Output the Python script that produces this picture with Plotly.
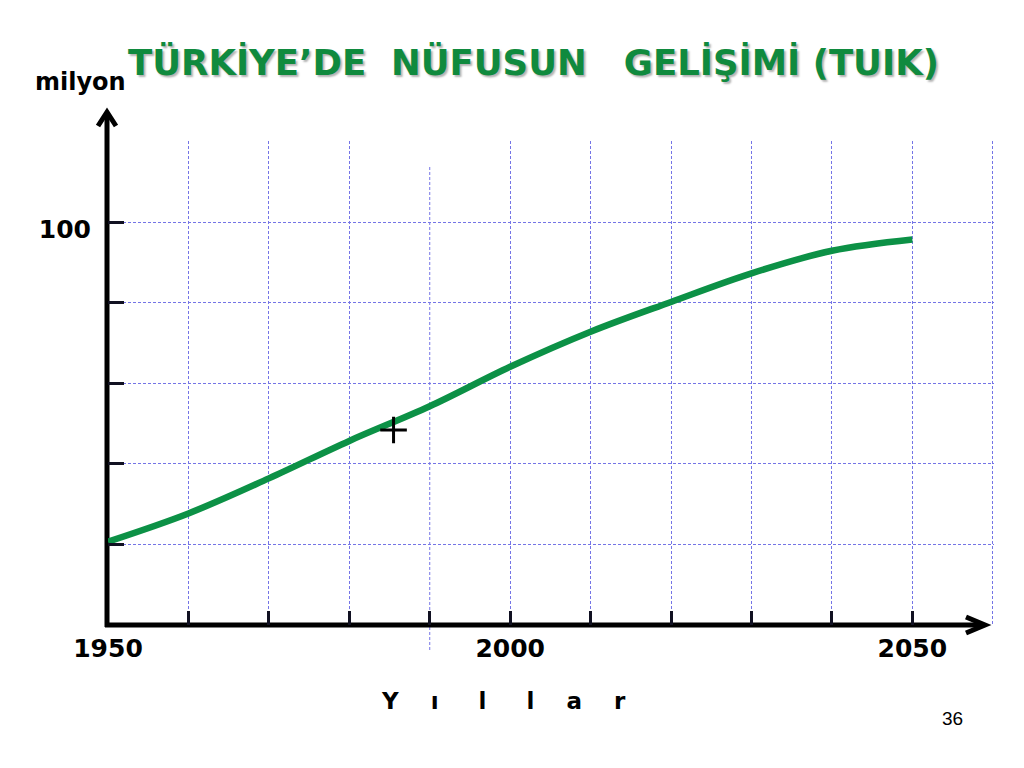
import plotly.graph_objects as go

# ---- data ----
years = [1950, 1960, 1970, 1980, 1990, 2000, 2010, 2020, 2030, 2040, 2050]
population = [20.7, 27.7, 36.4, 45.7, 54.3, 64.1, 72.8, 80.2, 87.3, 92.9, 95.7]
marker_year = [1985.5]
marker_value = [48.4]

x_tick_vals = [1950, 1960, 1970, 1980, 1990, 2000, 2010, 2020, 2030, 2040, 2050]
x_tick_text = ["1950", "", "", "", "", "2000", "", "", "", "", "2050"]
x_grid_vals = [1960, 1970, 1980, 2000, 2010, 2020, 2030, 2040, 2050, 2060]
y_tick_vals = [20, 40, 60, 80, 100]
y_tick_text = ["", "", "", "", "100"]
y_grid_vals = [20, 40, 60, 80, 100, 120]

title_text = "TÜRKİYE’DE\u00a0\u00a0NÜFUSUN\u00a0\u00a0\u00a0GELİŞİMİ (TUIK)"
y_unit = "milyon"
x_title = "Y\u00a0\u00a0\u00a0\u00a0ı\u00a0\u00a0\u00a0\u00a0\u00a0l\u00a0\u00a0\u00a0\u00a0\u00a0l\u00a0\u00a0\u00a0\u00a0a\u00a0\u00a0\u00a0\u00a0r"
page_no = "36"

GREEN = "#0c9146"
TITLE_GREEN = "#108a3e"
GRID = "#7474e6"
FONT = "Verdana, DejaVu Sans, sans-serif"

fig = go.Figure()
fig.add_trace(go.Scatter(
    x=years, y=population, mode="lines",
    line=dict(color=GREEN, width=6.5, shape="spline", smoothing=1.0),
    hoverinfo="skip", showlegend=False,
))
fig.add_trace(go.Scatter(
    x=marker_year, y=marker_value, mode="markers",
    marker=dict(symbol="cross-thin", size=19, line=dict(color="black", width=3)),
    hoverinfo="skip", showlegend=False,
))

# page offset (body margin of the html page)
OX, OY = 8, 8
W, H = 1008, 752
L = 108 - OX
T = 141 - OY
plot_right = 994 - OX
plot_bottom = 625 - OY
R = W - plot_right
B = H - plot_bottom
pw, ph = W - L - R, H - T - B

def px_x(p):
    return (p - OX - L) / pw

def px_y(p):
    return (H - B - (p - OY)) / ph

fig.update_layout(
    width=W, height=H,
    margin=dict(l=L, r=R, t=T, b=B, pad=0),
    paper_bgcolor="white", plot_bgcolor="white",
    showlegend=False,
    xaxis=dict(
        range=[1950, 2060.15], showline=False, zeroline=False,
        tickmode="array", tickvals=x_tick_vals, ticktext=x_tick_text,
        ticks="inside", ticklen=14, tickwidth=3, tickcolor="#111122",
        showgrid=False,
        tickfont=dict(family=FONT, size=25, color="black", weight="bold"),
        ticklabelstandoff=6,
        minor=dict(tickmode="array", tickvals=x_grid_vals, showgrid=True,
                   gridcolor=GRID, gridwidth=1, griddash="3px,2px", ticks=""),
    ),
    yaxis=dict(
        range=[0, 120.15], showline=False, zeroline=False,
        tickmode="array", tickvals=y_tick_vals, ticktext=y_tick_text,
        ticks="inside", ticklen=16, tickwidth=3, tickcolor="#111122",
        showgrid=False,
        tickfont=dict(family=FONT, size=25, color="black", weight="bold"),
        ticklabelstandoff=16, ticklabelshift=7,
        minor=dict(tickmode="array", tickvals=y_grid_vals, showgrid=True,
                   gridcolor=GRID, gridwidth=1, griddash="3px,2px", ticks=""),
    ),
)

shapes = []
# special 1990 grid line (shorter at top, extending below axis)
shapes.append(dict(type="line", xref="x", yref="paper", x0=1990, x1=1990,
                   y0=px_y(650), y1=px_y(165),
                   line=dict(color=GRID, width=1, dash="3px,2px"), layer="below"))
# y axis with arrow
shapes.append(dict(type="line", xref="paper", yref="paper", x0=px_x(107), x1=px_x(107),
                   y0=px_y(627), y1=px_y(113), line=dict(color="black", width=5), layer="between"))
shapes.append(dict(type="path", xref="paper", yref="paper",
                   path=f"M {px_x(98)} {px_y(126)} L {px_x(107)} {px_y(112)} L {px_x(116)} {px_y(126)}",
                   line=dict(color="black", width=5), layer="between"))
# x axis with arrow
shapes.append(dict(type="line", xref="paper", yref="paper", x0=px_x(105), x1=px_x(984),
                   y0=px_y(625), y1=px_y(625), line=dict(color="black", width=5), layer="between"))
shapes.append(dict(type="path", xref="paper", yref="paper",
                   path=f"M {px_x(966)} {px_y(617)} L {px_x(985)} {px_y(625)} L {px_x(966)} {px_y(633)}",
                   line=dict(color="black", width=5), layer="between"))
fig.update_layout(shapes=shapes)

ann = []
ann.append(dict(xref="paper", yref="paper", x=px_x(533), y=px_y(63), text=title_text,
                showarrow=False, xanchor="center", yanchor="middle",
                font=dict(family=FONT, size=35.5, color=TITLE_GREEN, weight="bold",
                          shadow="2px 2px 2px rgba(0,0,0,0.3)")))
ann.append(dict(xref="paper", yref="paper", x=px_x(80), y=px_y(82), text=y_unit,
                showarrow=False, xanchor="center", yanchor="middle",
                font=dict(family=FONT, size=24, color="black", weight="bold")))
ann.append(dict(xref="paper", yref="paper", x=px_x(503), y=px_y(701), text=x_title,
                showarrow=False, xanchor="center", yanchor="middle",
                font=dict(family=FONT, size=23, color="black", weight="bold")))
ann.append(dict(xref="paper", yref="paper", x=px_x(952), y=px_y(718), text=page_no,
                showarrow=False, xanchor="center", yanchor="middle",
                font=dict(family="Arial, Liberation Sans, sans-serif", size=19, color="black")))
fig.update_layout(annotations=ann)

fig.write_html("out.html")
